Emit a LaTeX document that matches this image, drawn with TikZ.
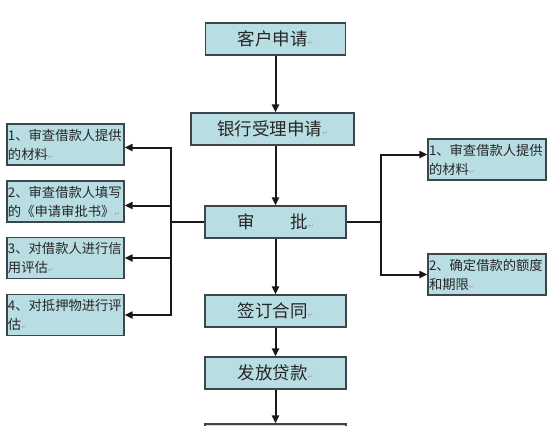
\documentclass[tikz,border=0pt]{standalone}
\usepackage{fontspec}
\setmainfont{Noto Sans CJK SC}
\newfontfamily\symfont{DejaVu Sans}
\usetikzlibrary{arrows.meta}
\definecolor{boxfill}{HTML}{B8DDE2}
\definecolor{boxline}{HTML}{3C474D}
\newcommand\retmark{{\symfont\fontsize{7bp}{8bp}\selectfont\color{gray!70}↵}}
\tikzset{
  mainbox/.style={draw=boxline, line width=1.3bp, fill=boxfill, minimum height=32bp,
    inner sep=0pt, font=\fontsize{17.5bp}{20bp}\selectfont, text=black!85},
  sidebox/.style={draw=boxline, line width=1.3bp, fill=boxfill, minimum height=41bp,
    minimum width=117bp, text width=115bp, align=left, inner xsep=1bp, inner ysep=0pt,
    font=\fontsize{13.3bp}{19bp}\selectfont, text=black!85},
  conn/.style={line width=2bp, draw=black!90},
  arr/.style={conn, -{Triangle[length=8bp,width=7bp]}}
}
\begin{document}
\begin{tikzpicture}[x=1bp,y=-1bp]
\useasboundingbox (0,0) rectangle (550,425);
\clip (0,0) rectangle (550,425);
\fill[white] (0,0) rectangle (550,425);
% main column
\node[mainbox, minimum width=140bp] (c1) at (275.5,39) {客户申请\retmark};
\node[mainbox, minimum width=163bp] (c2) at (272.5,129) {银行受理申请\retmark};
\node[mainbox, minimum width=141bp] (c3) at (275.5,222) {审\hspace{36bp}批\retmark};
\node[mainbox, minimum width=141bp] (c4) at (275.5,311) {签订合同\retmark};
\node[mainbox, minimum width=141bp] (c5) at (275.5,373) {发放贷款\retmark};
\node[mainbox, minimum width=141bp] (c6) at (275.5,440) {};
% left boxes
\node[sidebox] (L1) at (65.5,144.5) {1、审查借款人提供\\的材料\retmark};
\node[sidebox] (L2) at (65.5,201.5) {2、审查借款人填写\\的《申请审批书》\retmark};
\node[sidebox] (L3) at (65.5,258) {3、对借款人进行信\\用评估\retmark};
\node[sidebox] (L4) at (65.5,315) {4、对抵押物进行评\\估\retmark};
% right boxes
\node[sidebox, minimum width=118bp, text width=116bp] (R1) at (487,159.5) {1、审查借款人提供\\的材料\retmark};
\node[sidebox, minimum width=118bp, text width=116bp] (R2) at (487,274.5) {2、确定借款的额度\\和期限\retmark};
% bus points
\coordinate (lb) at (171,222);
\coordinate (rb) at (381,222);
% main arrows
\draw[arr] (c1.south) -- (c1.south |- c2.north);
\draw[arr] (c1.south |- c2.south) -- (c1.south |- c3.north);
\draw[arr] (c3.south) -- (c4.north);
\draw[arr] (c4.south) -- (c5.north);
\draw[arr] (c5.south) -- (c6.north);
% left branches
\draw[conn] (c3.west) -- (lb);
\draw[arr] (lb) |- ([yshift=-3bp]L1.east);
\draw[arr] (lb) |- ([yshift=-4bp]L2.east);
\draw[arr] (lb) |- (L3.east);
\draw[arr] (lb) |- (L4.east);
% right branches
\draw[conn] (c3.east) -- (rb);
\draw[arr] (rb) |- ([yshift=5bp]R1.west);
\draw[arr] (rb) |- (R2.west);
\end{tikzpicture}
\end{document}
